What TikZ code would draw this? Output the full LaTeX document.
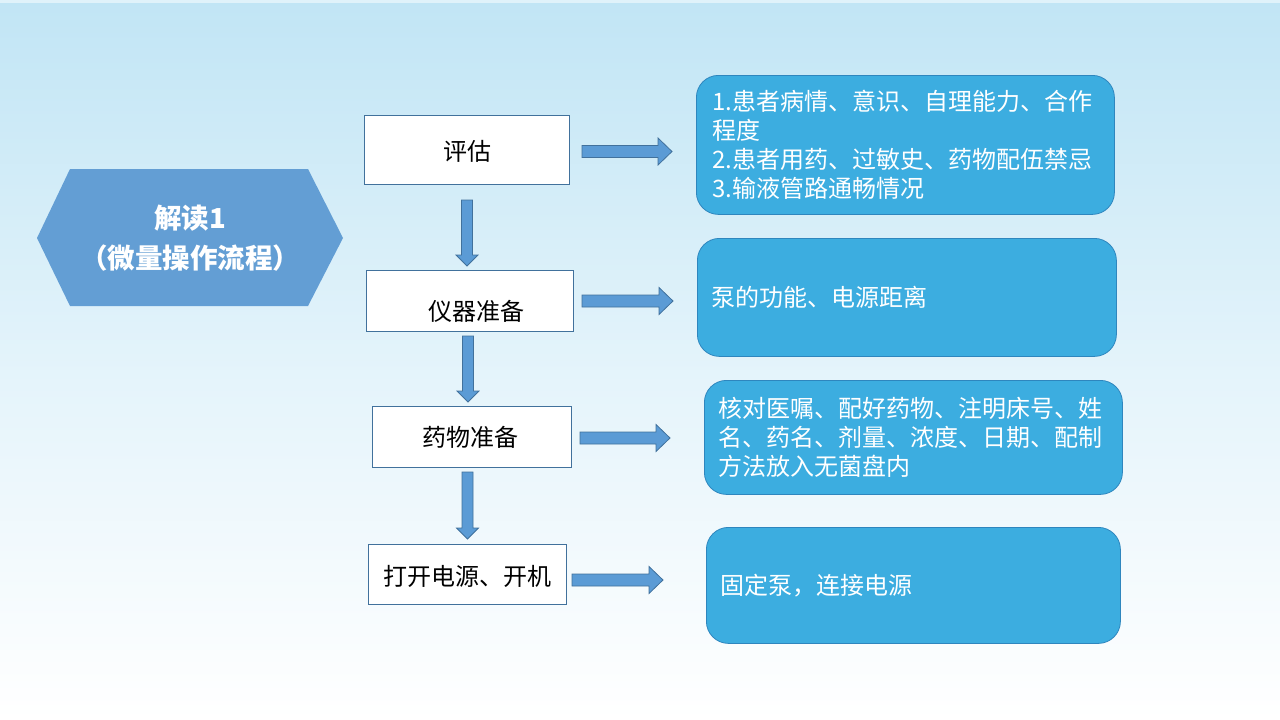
\documentclass[tikz,border=0pt]{standalone}
\usepackage{fontspec}
\newfontfamily\cjk{Noto Sans CJK SC}
\definecolor{bgtop}{HTML}{C1E5F5}
\definecolor{hexblue}{HTML}{639ED4}
\definecolor{arrfill}{HTML}{5B9BD5}
\definecolor{arrline}{HTML}{41719C}
\definecolor{boxblue}{HTML}{3CADE0}
\definecolor{boxline}{HTML}{2E86BE}
\definecolor{wline}{HTML}{41719C}
\tikzset{
  whitebox/.style={draw=wline, line width=0.8pt, fill=white, inner sep=0pt},
  bluebox/.style={draw=boxline, line width=0.8pt, fill=boxblue, rounded corners=22pt,
     text=white, align=left, inner xsep=17pt, inner ysep=0pt, anchor=north west,
     font=\cjk\fontsize{24}{29}\selectfont},
  blacktext/.style={font=\cjk\fontsize{24}{29}\selectfont, text=black, inner sep=0pt},
  barrow/.style={draw=arrline, line width=0.8pt, fill=arrfill},
  hexshape/.style={fill=hexblue, draw=none}
}
\newcommand\rarr[3]{%
 \draw[barrow] (#1,#3-6) -- (#2-14,#3-6) -- (#2-14,#3-13.5) -- (#2,#3) -- (#2-14,#3+13.5) -- (#2-14,#3+6) -- (#1,#3+6) -- cycle;}
\newcommand\darr[3]{%
 \draw[barrow] (#1-5.5,#2) -- (#1+5.5,#2) -- (#1+5.5,#3-11) -- (#1+11,#3-11) -- (#1,#3) -- (#1-11,#3-11) -- (#1-5.5,#3-11) -- cycle;}
\begin{document}
\begin{tikzpicture}[x=1pt,y=-1pt]
\useasboundingbox (0,0) rectangle (1280,720);
\shade[top color=bgtop, bottom color=white, middle color=bgtop!45!white] (0,0) rectangle (1280,720);
\fill[bgtop!50!white] (0,0) rectangle (1280,3);

% hexagon
\fill[hexshape] (37,238) -- (70,169) -- (308,169) -- (343,238) -- (308,306) -- (70,306) -- cycle;
\node[font=\cjk\bfseries\fontsize{27.5}{40}\selectfont, text=white, align=center, inner sep=0pt] (hex) at (190,238) {解读1\\（微量操作流程）};

% white boxes
\node[whitebox, minimum width=205pt, minimum height=69pt] (w1) at (466.5,149.5) {};
\node[blacktext] (t1) at (467,151) {评估};
\node[whitebox, minimum width=207pt, minimum height=61pt] (w2) at (469.5,300.5) {};
\node[blacktext] (t2) at (476,311) {仪器准备};
\node[whitebox, minimum width=199pt, minimum height=61pt] (w3) at (471.5,436.5) {};
\node[blacktext] (t3) at (470,437) {药物准备};
\node[whitebox, minimum width=198pt, minimum height=60pt] (w4) at (467,574) {};
\node[blacktext] (t4) at (467,576) {打开电源、开机};

% blue boxes
\node[bluebox, minimum width=418pt, minimum height=139pt, text width=386pt, inner xsep=16pt] (b1) at (696,75)
  {1.患者病情、意识、自理能力、合作\\程度\\2.患者用药、过敏史、药物配伍禁忌\\3.输液管路通畅情况};
\node[bluebox, minimum width=419pt, minimum height=118pt, text width=391pt, inner xsep=14pt] (b2) at (697,238)
  {泵的功能、电源距离};
\node[bluebox, minimum width=418pt, minimum height=114pt, text width=390pt, inner xsep=14pt] (b3) at (704,380)
  {核对医嘱、配好药物、注明床号、姓\\名、药名、剂量、浓度、日期、配制\\方法放入无菌盘内};
\node[bluebox, minimum width=414pt, minimum height=116pt, text width=386pt, inner xsep=14pt] (b4) at (706,527)
  {固定泵，连接电源};

% down arrows
\darr{467}{200}{266}
\darr{468}{336}{402}
\darr{467.5}{472}{539}

% right arrows
\rarr{582}{672}{151.5}
\rarr{582}{673}{301}
\rarr{580}{670}{438}
\rarr{572}{663}{580}
\end{tikzpicture}
\end{document}
